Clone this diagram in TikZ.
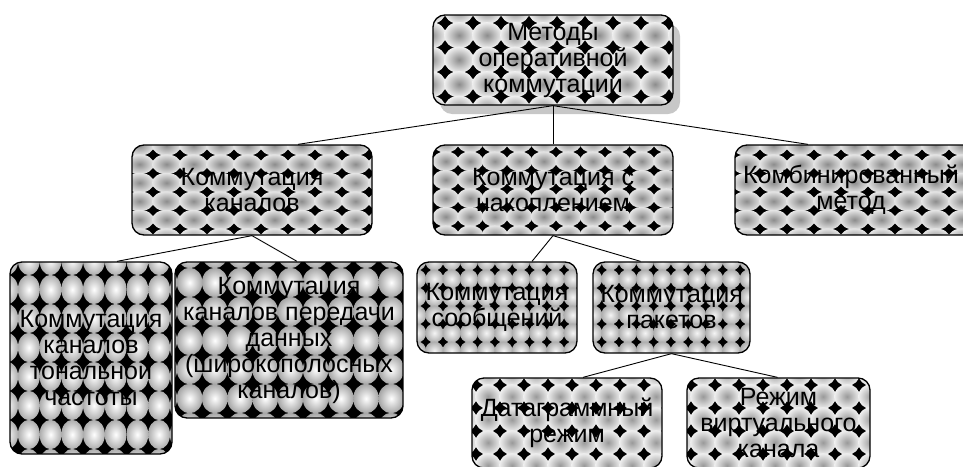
\documentclass[tikz,border=0pt]{standalone}
\usepackage{fontspec}
\setmainfont{Liberation Sans}
\usetikzlibrary{calc}
\pgfdeclarelayer{bg}
\pgfsetlayers{bg,main}
\tikzset{
  box/.style={draw, line width=1.3pt, rounded corners=12pt, inner sep=0pt, align=center,
    font=\fontsize{25}{26}\selectfont},
  link/.style={line width=0.9pt},
}
% pattern: tile dx, tile dy, x phase, y phase, inner colour, outer colour, radius factor
\newcommand\setpat[7]{\def\pdx{#1}\def\pdy{#2}\def\pxo{#3}\def\pyo{#4}\def\pin{#5}\def\pout{#6}\def\prf{#7}}
\newcommand\patbox[6]{%
  \node[box, minimum width={(#4-#2)*1pt}, minimum height={(#5-#3)*1pt}] (#1) at ({(#2+#4)/2},{(#3+#5)/2}) {#6};
  \begin{pgfonlayer}{bg}
    \begin{scope}
      \clip[rounded corners=12pt] (#2,#3) rectangle (#4,#5);
      \fill[black] (#2,#3) rectangle (#4,#5);
      \pgfmathtruncatemacro\nx{(#4-#2)/\pdx+1}
      \pgfmathtruncatemacro\ny{(#5-#3)/\pdy+1}
      \foreach \i in {-1,...,\nx}{
        \foreach \j in {-1,...,\ny}{
          \shade[inner color=\pin, outer color=\pout]
            ({#2+\pxo+(\i+0.5)*\pdx},{#3+\pyo+(\j+0.5)*\pdy})
            ellipse [x radius={\pdx*\prf*1pt}, y radius={\pdy*\prf*1pt}];
        }
      }
    \end{scope}
  \end{pgfonlayer}
}
\begin{document}
\begin{tikzpicture}[x=1pt, y=-1pt]
  \clip (0,0) rectangle (963,466);
  \useasboundingbox (0,0) rectangle (963,466);
  % shadow of top box
  \begin{pgfonlayer}{bg}
    \fill[black!22, rounded corners=12pt] (440,24) rectangle (680,114);
  \end{pgfonlayer}
  \setpat{28}{24.5}{12}{8}{black!45}{black!6}{0.535}
  \patbox{b1}{433}{15}{673}{105}{Методы\\оперативной\\коммутации}
  \setpat{27}{18.5}{21}{10}{black!45}{black!10}{0.535}
  \patbox{b2}{132}{145}{372}{235}{Коммутация\\каналов}
  \setpat{24.5}{18.5}{0.5}{7}{black!45}{black!10}{0.535}
  \patbox{b3}{433}{145}{673}{235}{Коммутация с\\накоплением}
  \setpat{27}{18.5}{25}{10}{black!45}{black!10}{0.535}
  \patbox{b4}{735}{145}{975}{235}{\hspace*{-8pt}Комбинированный\\\hspace*{-8pt}метод}
  \setpat{21.7}{29}{8}{13}{white}{black!32}{0.505}
  \patbox{b5}{10}{262}{172}{454}{Коммутация\\каналов\\тональной\\частоты}
  \setpat{25.2}{29}{2}{6}{white}{black!35}{0.51}
  \patbox{b6}{175}{262}{403}{418}{Коммутация\\каналов передачи\\данных\\(широкополосных\\каналов)}
  \setpat{17.3}{18}{8.7}{8}{black!4}{black!32}{0.53}
  \patbox{b7}{417}{262}{577}{353}{Коммутация\\сообщений}
  \setpat{17.3}{18}{8.7}{8}{black!4}{black!32}{0.53}
  \patbox{b8}{593}{262}{750}{353}{Коммутация\\пакетов}
  \setpat{24}{23}{4}{7}{black!40}{black!6}{0.535}
  \patbox{b9}{472}{378}{662}{468}{Датаграммный\\режим}
  \setpat{24}{23}{4}{7}{black!40}{black!6}{0.535}
  \patbox{b10}{687}{378}{870}{468}{Режим\\виртуального\\канала}
  % connectors
  \draw[link] (b1.south) -- ($(b2.north)+(46,0)$);
  \draw[link] (b1.south) -- (b3.north);
  \draw[link] (b1.south) -- ($(b4.north)+(-47,0)$);
  \draw[link] (b2.south) -- ($(b5.north)+(26,0)$);
  \draw[link] (b2.south) -- ($(b6.north)+(8,0)$);
  \draw[link] (b3.south) -- ($(b7.north)+(35,0)$);
  \draw[link] (b3.south) -- ($(b8.north)+(-31,0)$);
  \draw[link] (b8.south) -- ($(b9.north)+(16,0)$);
  \draw[link] (b8.south) -- ($(b10.north)+(-1,0)$);
\end{tikzpicture}
\end{document}
